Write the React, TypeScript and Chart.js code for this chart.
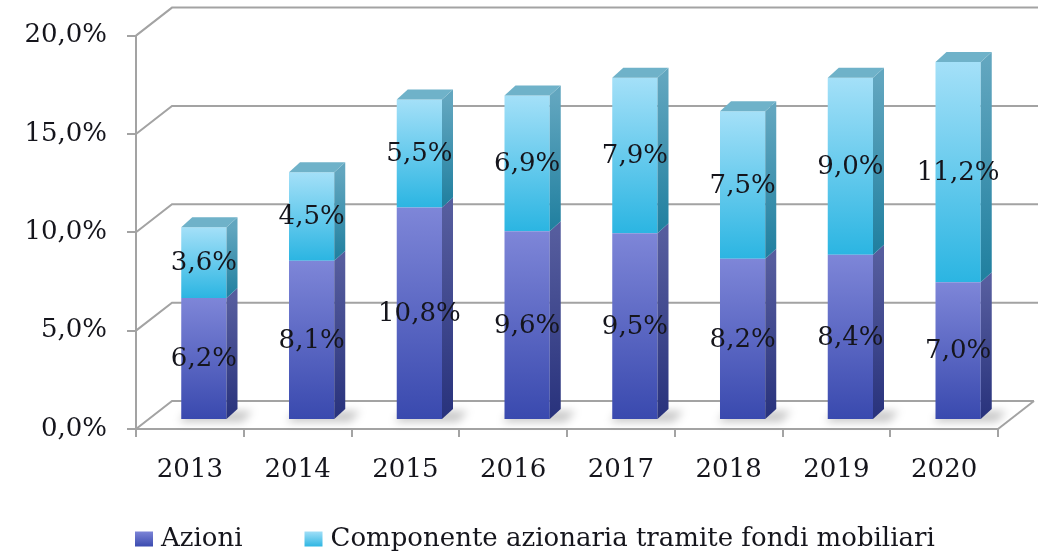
import { useEffect, useRef } from "react";
import { Chart, registerables } from "chart.js";

Chart.register(...registerables);

// ---- data ----
const categories = ["2013", "2014", "2015", "2016", "2017", "2018", "2019", "2020"];
const azioni = [6.2, 8.1, 10.8, 9.6, 9.5, 8.2, 8.4, 7.0];
const fondi = [3.6, 4.5, 5.5, 6.9, 7.9, 7.5, 9.0, 11.2];
const seriesNames = ["Azioni", "Componente azionaria tramite fondi mobiliari"];
const yTicks = [0, 5, 10, 15, 20];

// ---- style ----
const FONT = "'DejaVu Serif', 'Liberation Serif', serif";
const TEXT = "#15151c";
const LINE = "#a3a3a3";
const WALL = { dx: 36, dy: -28 };
const SHIFT = { dx: 14, dy: -9 };
const DEPTH = { dx: 11, dy: -10 };

const FRONT = [
  ["#7e86d8", "#3949ae"],
  ["#a4e0f8", "#2bb5e2"],
];
const SIDE = [
  ["#565d9e", "#28327c"],
  ["#62a6bf", "#1f7f9f"],
];
const TOP = "#6fb2c9";

const fmt = (v: number) => v.toFixed(1).replace(".", ",") + "%";

function frontFill(c: any) {
  const ds = c.datasetIndex;
  const pal = FRONT[ds] || FRONT[0];
  const chart = c.chart;
  const ys = chart.scales && chart.scales.y;
  const i = c.dataIndex;
  if (!ys || i == null || c.type !== "data") return pal[1];
  const d0 = chart.data.datasets[0].data as number[];
  const d1 = chart.data.datasets[1].data as number[];
  const lo = ds === 0 ? 0 : d0[i];
  const hi = ds === 0 ? d0[i] : d0[i] + d1[i];
  const y0 = ys.getPixelForValue(hi);
  const y1 = ys.getPixelForValue(lo);
  if (!isFinite(y0) || !isFinite(y1)) return pal[1];
  const g = chart.ctx.createLinearGradient(0, y0, 0, y1);
  g.addColorStop(0, pal[0]);
  g.addColorStop(1, pal[1]);
  return g;
}

const threeD = {
  id: "threeD",
  beforeDatasetsDraw(chart: any) {
    const { ctx, chartArea: a, scales } = chart;
    const y = scales.y;
    ctx.save();
    ctx.strokeStyle = LINE;
    ctx.lineWidth = 2;
    for (const v of yTicks) {
      const py = y.getPixelForValue(v);
      ctx.beginPath();
      ctx.moveTo(a.left, py);
      ctx.lineTo(a.left + WALL.dx, py + WALL.dy);
      ctx.lineTo(v === 0 ? a.right + WALL.dx : chart.width, py + WALL.dy);
      ctx.stroke();
    }
    const p0 = y.getPixelForValue(0);
    ctx.beginPath();
    ctx.moveTo(a.right, p0);
    ctx.lineTo(a.right + WALL.dx, p0 + WALL.dy);
    ctx.stroke();
    ctx.restore();

    ctx.save();
    ctx.translate(SHIFT.dx, SHIFT.dy);
    // soft floor shadows
    const meta = chart.getDatasetMeta(0);
    ctx.save();
    ctx.filter = "blur(4px)";
    ctx.fillStyle = "rgba(0,0,0,0.22)";
    meta.data.forEach((bar: any) => {
      const { x, base, width } = bar.getProps(["x", "base", "width"], true);
      const l = x - width / 2;
      const r = x + width / 2;
      ctx.beginPath();
      ctx.moveTo(l - 2, base + 3);
      ctx.lineTo(r + 16, base + 3);
      ctx.lineTo(r + 26, base - 8);
      ctx.lineTo(l + 6, base - 8);
      ctx.closePath();
      ctx.fill();
    });
    ctx.restore();
  },
  afterDatasetsDraw(chart: any) {
    const { ctx } = chart;
    const n = chart.data.datasets.length;
    for (let ds = 0; ds < n; ds++) {
      const meta = chart.getDatasetMeta(ds);
      meta.data.forEach((bar: any) => {
        const { x, y, base, width } = bar.getProps(["x", "y", "base", "width"], true);
        const l = x - width / 2;
        const r = x + width / 2;
        const top = Math.min(y, base);
        const bot = Math.max(y, base);
        const g = ctx.createLinearGradient(0, top, 0, bot);
        g.addColorStop(0, SIDE[ds][0]);
        g.addColorStop(1, SIDE[ds][1]);
        ctx.fillStyle = g;
        ctx.beginPath();
        ctx.moveTo(r, bot);
        ctx.lineTo(r, top);
        ctx.lineTo(r + DEPTH.dx, top + DEPTH.dy);
        ctx.lineTo(r + DEPTH.dx, bot + DEPTH.dy);
        ctx.closePath();
        ctx.fill();
        if (ds === n - 1) {
          ctx.fillStyle = TOP;
          ctx.beginPath();
          ctx.moveTo(l, top);
          ctx.lineTo(l + DEPTH.dx, top + DEPTH.dy);
          ctx.lineTo(r + DEPTH.dx, top + DEPTH.dy);
          ctx.lineTo(r, top);
          ctx.closePath();
          ctx.fill();
        }
      });
    }
    ctx.fillStyle = TEXT;
    ctx.font = `26px ${FONT}`;
    ctx.textAlign = "center";
    ctx.textBaseline = "middle";
    for (let ds = 0; ds < n; ds++) {
      const meta = chart.getDatasetMeta(ds);
      const vals = chart.data.datasets[ds].data as number[];
      meta.data.forEach((bar: any, i: number) => {
        const { x, y, base } = bar.getProps(["x", "y", "base"], true);
        ctx.fillText(fmt(vals[i]), x, (y + base) / 2 + 1);
      });
    }
    ctx.restore();
  },
  afterDraw(chart: any) {
    const { ctx } = chart;
    ctx.save();
    ctx.font = `26px ${FONT}`;
    ctx.textAlign = "left";
    ctx.textBaseline = "middle";
    let x = 135;
    const yc = 539;
    chart.data.datasets.forEach((d: any, k: number) => {
      const g = ctx.createLinearGradient(0, yc - 8, 0, yc + 8);
      g.addColorStop(0, FRONT[k][0]);
      g.addColorStop(1, FRONT[k][1]);
      ctx.fillStyle = g;
      ctx.fillRect(x, yc - 7.5, 18, 15);
      ctx.fillStyle = TEXT;
      ctx.fillText(d.label, x + 26, yc);
      x += 26 + ctx.measureText(d.label).width + 62;
    });
    ctx.restore();
  },
};

export default function App() {
  const ref = useRef<HTMLCanvasElement | null>(null);
  useEffect(() => {
    if (!ref.current) return;
    Chart.defaults.font.family = FONT;
    const chart = new Chart(ref.current, {
      type: "bar",
      data: {
        labels: categories,
        datasets: [
          { label: seriesNames[0], data: azioni, backgroundColor: frontFill, borderWidth: 0, clip: false as any },
          { label: seriesNames[1], data: fondi, backgroundColor: frontFill, borderWidth: 0, clip: false as any },
        ],
      },
      options: {
        animation: false,
        responsive: false,
        layout: { padding: { left: 0, top: 33, right: 40, bottom: 68 } },
        plugins: { legend: { display: false }, tooltip: { enabled: false } },
        datasets: { bar: { categoryPercentage: 1, barPercentage: 0.42 } },
        scales: {
          x: {
            stacked: true,
            grid: { drawOnChartArea: false, offset: true, tickLength: 8, color: LINE, lineWidth: 2 },
            border: { color: LINE, width: 2 },
            ticks: { color: TEXT, font: { size: 26, family: FONT }, padding: 18 },
            afterFit: (s: any) => { s.height = 60; },
          },
          y: {
            stacked: true,
            min: 0,
            max: 20,
            grid: { drawOnChartArea: false, tickLength: 9, color: LINE, lineWidth: 2 },
            border: { color: LINE, width: 2 },
            ticks: {
              stepSize: 5,
              color: TEXT,
              padding: 20,
              font: { size: 26, family: FONT },
              callback: (v: any) => fmt(Number(v)),
            },
            afterFit: (s: any) => { s.width = 136; },
          },
        },
      },
      plugins: [threeD],
    });
    return () => chart.destroy();
  }, []);
  return (
    <div style={{ position: "absolute", left: 0, top: 0, width: 1038, height: 557, background: "#fff" }}>
      <canvas ref={ref} width={1038} height={557} style={{ display: "block" }} />
    </div>
  );
}
